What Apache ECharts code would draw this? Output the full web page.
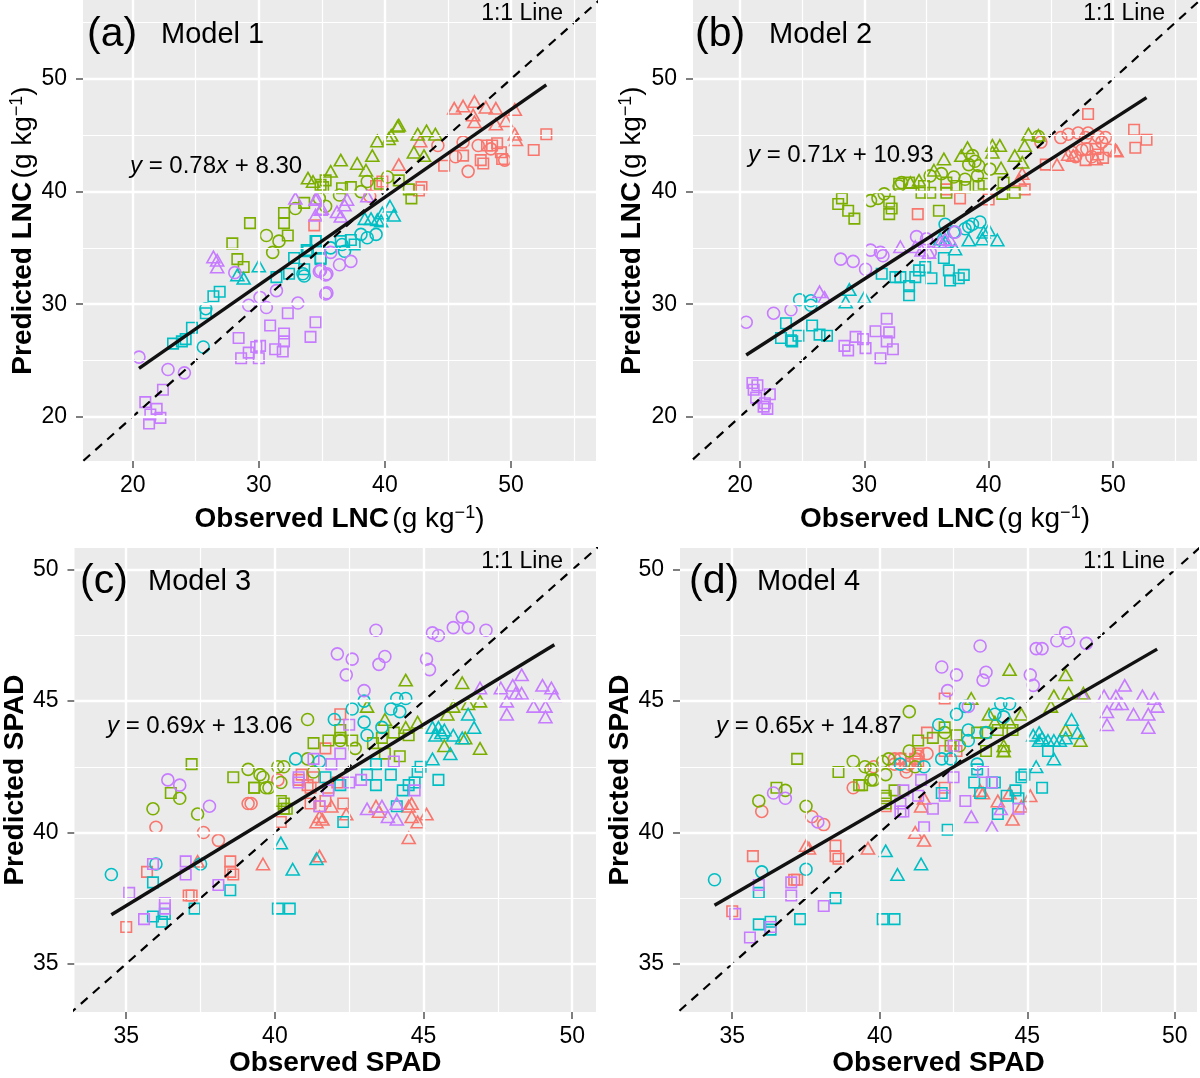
<!DOCTYPE html>
<html><head><meta charset="utf-8">
<script src="https://cdn.jsdelivr.net/npm/echarts@6/dist/echarts.min.js"></script>
<style>html,body{margin:0;padding:0;background:#fff}#c{width:1200px;height:1078px}</style>
</head><body><div id="c"></div>
<script>
// ---------- categories ----------
const groupColors = ['#F8766D', '#7CAE00', '#00BFC4', '#C77CFF']; // G1..G4
const shapeSymbols = ['circle', 'triangle', 'rect'];               // S1..S3 (k = 0,1,2)
const panelLetters = ['(a)', '(b)', '(c)', '(d)'];
const modelNames = ['Model 1', 'Model 2', 'Model 3', 'Model 4'];
const slopes = [0.78, 0.71, 0.69, 0.65];
const intercepts = [8.30, 10.93, 13.06, 14.87];
const ticksLNC = [20, 30, 40, 50];
const minorLNC = [25, 35, 45, 55];
const ticksSPAD = [35, 40, 45, 50];
const minorSPAD = [37.5, 42.5, 47.5];

// ---------- data: [observed, predicted, shape k] ----------
const m1_red = [
[34.4,37.0,2],[52.8,45.1,2],[51.8,43.7,2],[48.9,44.3,2],[48.1,44.1,2],[48.5,44.1,2],[49.2,43.5,2],[49.3,42.9,2],[47.6,42.8,2],[47.8,42.5,2],[46.2,43.2,2],[44.7,42.3,2],[42.9,40.4,2],[42.7,40.1,2],[39.3,40.5,2],[39.8,40.9,2],
[44.2,44.1,0],[46.2,44.4,0],[47.4,44.1,0],[48.4,43.8,0],[49.5,42.8,0],[45.6,43.1,0],[46.6,41.8,0],[38.8,39.6,0],
[45.5,47.4,1],[46.2,47.6,1],[47.1,48.0,1],[48.0,47.5,1],[48.8,47.4,1],[50.3,47.3,1],[47.0,46.8,1],[47.1,46.2,1],[48.8,46.0,1],[49.6,46.3,1],[50.3,45.1,1],[50.4,44.6,1],[41.1,42.4,1],[42.8,44.5,1]];
const m1_green = [
[41.0,45.8,1],[41.1,45.9,1],[40.5,45.0,1],[40.3,44.7,1],[39.4,44.5,1],[39.0,43.2,1],[37.8,42.5,1],[36.5,42.8,1],[38.5,41.9,1],[35.7,41.8,1],[33.9,41.2,1],[34.3,40.9,1],[42.6,45.1,1],[43.3,45.4,1],[44.0,45.1,1],[42.3,43.5,1],[43.1,43.2,1],
[35.3,41.0,2],[35.1,40.4,2],[36.6,40.3,2],[37.3,40.4,2],[41.1,41.0,2],[41.9,40.2,2],[42.1,39.4,2],[39.6,40.7,2],[33.6,39.0,2],[29.3,37.2,2],[27.9,35.4,2],[28.3,34.0,2],[28.8,33.3,2],[32.0,38.1,2],[32.0,37.2,2],[32.3,36.1,2],[34.9,40.6,2],
[38.6,40.9,0],[40.2,41.3,0],[38.1,40.0,0],[36.4,39.7,0],[35.3,38.7,0],[30.6,36.1,0],[31.6,35.6,0],[31.1,34.6,0],[32.9,38.5,0],[34.8,39.4,0]];
const m1_cyan = [
[23.2,26.5,2],[23.9,26.7,2],[24.2,26.9,2],[24.7,27.9,2],[25.8,29.2,2],[26.4,30.7,2],[26.9,31.1,2],[31.4,32.4,2],[32.4,32.7,2],[32.8,34.1,2],[33.8,34.8,2],[34.6,35.6,2],[34.9,34.1,2],[37.3,35.7,2],[37.6,35.3,2],[36.5,35.6,2],[34.9,34.0,2],[33.9,34.7,2],[34.5,35.6,2],[33.6,33.1,2],
[25.6,26.2,0],[25.8,29.6,0],[33.5,32.7,0],[39.3,36.2,0],[38.6,35.9,0],[38.1,36.2,0],[36.6,35.3,0],[36.8,34.7,0],[35.7,35.0,0],[33.6,32.5,0],
[30.0,33.4,1],[28.8,32.3,1],[28.3,32.6,1],[40.7,37.9,1],[40.4,38.7,1],[39.8,38.1,1],[39.4,37.5,1],[38.9,37.6,1],[38.4,37.6,1],[39.7,37.4,1]];
const m1_purple = [
[21.0,21.3,2],[21.9,20.7,2],[21.4,20.2,2],[22.2,19.9,2],[21.3,19.4,2],[22.4,22.4,2],[28.4,27.0,2],[29.8,26.2,2],[30.1,26.3,2],[29.2,25.7,2],[28.6,25.2,2],[30.0,25.2,2],[30.9,28.1,2],[32.0,27.4,2],[32.0,26.7,2],[31.3,26.0,2],[31.9,25.8,2],[32.3,29.2,2],[34.5,28.4,2],[34.1,27.1,2],
[20.5,25.3,0],[22.8,24.2,0],[24.1,23.9,0],[29.2,29.9,0],[30.1,30.6,0],[30.6,29.7,0],[31.4,31.2,0],[33.1,30.1,0],[35.4,31.0,0],[34.9,33.0,0],[35.4,32.7,0],[37.3,33.8,0],[36.4,33.5,0],[35.7,34.6,0],[34.8,32.9,0],[35.3,32.6,0],[35.3,30.9,0],[28.1,32.8,0],
[26.4,34.2,1],[26.7,33.9,1],[26.7,33.3,1],[32.9,39.4,1],[34.6,39.4,1],[34.9,38.4,1],[34.5,39.3,1],[34.5,37.9,1],[35.0,38.5,1],[36.2,38.2,1],[36.5,37.8,1],[37.0,39.3,1],[36.8,38.8,1],[38.6,39.6,1]];

const m2_red = [
[48.0,46.9,2],[51.7,45.5,2],[52.7,44.6,2],[51.8,43.9,2],[47.8,42.8,2],[44.6,42.4,2],[42.9,40.2,2],[40.0,39.3,2],[37.7,39.4,2],[36.6,40.2,2],[34.3,38.0,2],[49.2,43.0,2],[48.8,43.3,2],[48.6,43.8,2],
[45.8,44.8,0],[46.4,45.1,0],[47.2,45.2,0],[47.8,44.8,0],[48.0,45.2,0],[48.8,44.9,0],[49.4,44.8,0],[49.1,44.4,0],[47.5,43.7,0],[46.7,43.5,0],[47.0,43.1,0],[47.9,43.8,0],[48.3,43.1,0],[49.7,43.7,0],[44.2,44.4,0],
[50.3,43.6,1],[50.2,43.7,1],[46.8,43.2,1],[46.4,43.3,1],[45.5,42.4,1],[42.7,41.6,1],[42.5,41.0,1],[48.6,42.9,1]];
const m2_green = [
[43.2,45.1,1],[44.0,45.0,1],[42.9,44.1,1],[42.1,43.2,1],[42.7,42.6,1],[41.0,42.1,1],[40.3,44.1,1],[40.9,44.1,1],[40.3,43.5,1],[38.3,43.9,1],[37.8,43.2,1],[36.4,42.9,1],[35.6,41.9,1],[34.4,41.0,1],[33.7,40.8,1],
[38.7,43.2,0],[38.9,42.7,0],[39.2,42.3,0],[40.1,42.0,0],[38.4,42.4,0],[36.2,41.6,0],[37.2,41.3,0],[38.1,41.1,0],[39.1,41.4,0],[35.3,41.4,0],[33.0,40.8,0],[44.0,44.9,0],[30.5,39.2,0],[31.1,39.4,0],[31.6,39.8,0],[32.8,40.5,0],
[32.8,40.7,2],[33.6,40.8,2],[34.8,40.5,2],[34.6,39.9,2],[35.3,39.9,2],[36.6,39.9,2],[37.4,40.5,2],[38.1,40.4,2],[39.2,40.5,2],[39.6,40.7,2],[41.2,40.8,2],[42.1,39.9,2],[41.1,39.8,2],[32.0,39.1,2],[32.2,38.5,2],[32.0,38.0,2],[36.0,38.3,2],[36.6,40.8,2],[27.9,38.9,2],[28.2,39.4,2],[28.7,38.3,2],[29.2,37.6,2]];
const m2_cyan = [
[36.5,37.1,0],[38.1,36.7,0],[38.7,37.1,0],[39.3,37.3,0],[38.4,36.9,0],[37.2,36.4,0],[24.8,30.4,0],[25.7,29.9,0],[25.7,30.3,0],
[38.4,35.7,1],[39.5,35.8,1],[40.0,36.6,1],[40.7,35.7,1],[39.6,36.4,1],[37.3,34.9,1],[36.1,35.8,1],[36.5,35.5,1],[28.8,31.3,1],[28.5,30.2,1],[30.0,30.6,1],
[36.4,34.1,2],[34.9,33.3,2],[34.4,33.0,2],[34.1,32.4,2],[33.6,31.6,2],[33.6,30.8,2],[35.4,32.3,2],[36.8,33.0,2],[36.9,32.1,2],[37.6,32.3,2],[38.0,32.6,2],[32.9,32.4,2],[32.5,32.4,2],[31.4,32.7,2],[23.7,28.3,2],[23.3,27.0,2],[24.1,26.8,2],[24.2,26.7,2],[24.7,27.2,2],[25.8,28.1,2],[26.4,27.3,2],[27.0,27.2,2]];
const m2_purple = [
[21.0,23.0,2],[21.4,22.8,2],[21.1,22.4,2],[21.3,21.7,2],[22.0,21.2,2],[22.2,20.7,2],[22.4,22.0,2],[21.9,20.9,2],[28.4,26.3,2],[28.7,25.9,2],[29.3,27.1,2],[29.9,26.9,2],[30.1,26.1,2],[30.9,27.6,2],[31.8,28.7,2],[32.0,27.5,2],[31.8,26.7,2],[32.3,26.0,2],[31.3,25.2,2],
[20.5,28.4,0],[22.7,29.2,0],[24.1,29.5,0],[28.1,34.0,0],[29.1,33.8,0],[30.1,33.1,0],[30.5,34.8,0],[31.3,34.6,0],[31.5,34.3,0],[34.2,36.0,0],[35.0,35.8,0],[35.3,34.6,0],[37.3,36.4,0],
[26.4,31.1,1],[26.8,30.6,1],[36.5,35.8,1],[36.9,35.7,1],[36.1,35.5,1],[32.9,35.1,1],[34.1,35.1,1],[34.6,34.8,1],[35.2,34.6,1]];

const m3_red = [
[35.0,36.4,2],[35.7,38.5,2],[38.5,38.9,2],[38.5,38.5,2],[38.6,38.4,2],[37.1,37.6,2],[37.2,37.6,2],[40.2,40.4,2],[42.2,44.5,2],[41.7,43.2,2],[40.9,42.2,2],[40.8,42.0,2],[41.3,42.1,2],[41.1,41.8,2],[41.2,41.7,2],[41.2,41.1,2],[41.7,41.2,2],[42.3,41.1,2],[41.5,41.0,2],[41.8,41.7,2],[42.1,41.9,2],
[36.0,40.2,0],[37.6,40.0,0],[38.1,39.7,0],[39.1,41.1,0],[40.1,42.0,0],[39.2,41.1,0],
[37.4,38.9,1],[39.6,38.8,1],[41.5,39.1,1],[41.5,40.6,1],[41.4,40.4,1],[43.4,41.0,1],[43.5,40.8,1],[44.5,41.0,1],[44.6,41.1,1],[44.6,40.6,1],[44.8,40.4,1],[45.1,40.7,1],[44.5,39.8,1],[41.9,41.0,1],[41.6,40.5,1],[42.4,40.7,1]];
const m3_green = [
[36.5,41.5,2],[37.2,42.6,2],[38.6,42.1,2],[39.3,41.7,2],[40.2,41.2,2],[40.3,40.9,2],[42.2,43.9,2],[42.6,43.5,2],[41.3,43.4,2],[41.8,43.5,2],[43.3,43.4,2],[43.6,43.6,2],[44.0,43.8,2],[44.5,43.7,2],[44.2,42.9,2],[43.7,43.0,2],[42.2,43.6,2],[40.3,41.1,2],[40.4,40.9,2],[39.3,41.7,2],
[35.9,40.9,0],[36.8,41.3,0],[37.4,40.7,0],[39.1,42.4,0],[39.5,42.2,0],[39.6,42.1,0],[39.8,41.7,0],[40.1,42.5,0],[40.3,42.5,0],[40.2,41.9,0],[41.1,44.3,0],[42.2,43.5,0],[42.7,43.2,0],[41.1,42.8,0],[41.3,42.3,0],[39.7,41.7,0],
[44.4,45.8,1],[46.3,45.7,1],[46.9,45.0,1],[46.5,44.9,1],[46.0,44.8,1],[45.8,44.5,1],[43.1,44.8,1],[43.7,44.3,1],[44.8,44.2,1],[44.4,44.0,1],[46.9,43.2,1],[45.7,43.3,1],[46.4,43.6,1]];
const m3_cyan = [
[34.5,38.4,0],[36.0,38.8,0],[37.5,38.8,0],[44.1,45.1,0],[44.4,45.1,0],[43.9,44.7,0],[44.2,44.6,0],[43.6,44.0,0],[43.0,44.2,0],[43.1,43.7,0],[42.6,44.7,0],[43.0,45.0,0],[42.0,44.3,0],[40.7,42.8,0],[41.5,42.7,0],
[35.9,38.1,2],[35.9,36.8,2],[36.2,36.6,2],[36.3,36.9,2],[38.5,37.8,2],[37.3,37.1,2],[40.1,37.1,2],[40.5,37.1,2],[43.4,42.6,2],[43.9,42.2,2],[43.4,41.8,2],[43.1,42.2,2],[44.1,41.0,2],[44.3,41.6,2],[44.5,41.8,2],[44.7,41.9,2],[44.8,42.3,2],[44.9,42.5,2],[45.5,42.0,2],[42.3,40.4,2],[41.7,42.1,2],[42.2,41.8,2],
[40.2,39.6,1],[40.6,38.6,1],[41.4,39.0,1],[46.5,44.5,1],[46.7,44.0,1],[45.3,44.0,1],[45.5,44.0,1],[45.6,43.8,1],[45.4,43.7,1],[45.7,43.9,1],[46.0,43.7,1],[46.3,43.6,1],[45.9,43.0,1],[45.3,42.8,1]];
const m3_purple = [
[35.1,37.7,2],[35.9,38.8,2],[36.3,37.3,2],[36.3,37.1,2],[35.6,36.7,2],[37.0,38.9,2],[37.0,38.4,2],[38.1,38.0,2],[42.5,44.1,2],[42.2,43.0,2],[41.9,42.6,2],[41.3,42.8,2],[40.8,41.9,2],[40.8,42.1,2],[41.8,41.6,2],[42.5,41.9,2],[42.9,42.0,2],[44.0,42.7,2],[41.5,41.0,2],[44.7,41.6,2],
[36.4,42.0,0],[36.8,41.8,0],[37.8,41.0,0],[43.4,47.7,0],[42.1,46.8,0],[42.6,46.6,0],[43.7,46.7,0],[43.5,46.4,0],[42.4,46.0,0],[45.1,46.6,0],[45.2,46.2,0],[45.3,47.6,0],[45.5,47.5,0],[46.0,47.8,0],[46.3,48.2,0],[46.5,47.8,0],[47.1,47.7,0],[43.0,45.4,0],
[46.9,45.5,1],[47.6,45.5,1],[48.0,45.6,1],[48.3,46.0,1],[48.3,45.3,1],[48.1,45.3,1],[47.8,45.0,1],[47.8,44.5,1],[49.0,45.6,1],[49.3,45.5,1],[49.4,45.2,1],[48.7,44.8,1],[49.1,44.8,1],[49.1,44.4,1],[43.1,40.9,1],[43.6,41.0,1],[43.8,40.6,1],[44.1,41.1,1],[44.1,40.5,1]];

const m4_red = [
[35.0,37.0,2],[35.7,39.1,2],[37.1,38.2,2],[37.2,38.2,2],[38.5,39.5,2],[38.5,39.1,2],[38.6,39.0,2],[40.2,41.0,2],[42.2,45.1,2],[41.6,43.8,2],[40.7,42.8,2],[41.3,43.0,2],[41.2,42.8,2],[41.3,42.7,2],[42.2,41.7,2],[42.2,43.1,2],[42.6,43.1,2],
[36.0,40.8,0],[37.7,40.6,0],[38.1,40.3,0],[39.1,41.7,0],[39.8,42.5,0],[40.5,42.6,0],[40.7,42.8,0],[40.9,42.3,0],[41.2,42.8,0],[40.9,42.5,0],[41.3,42.9,0],[41.6,43.0,0],[40.5,42.8,0],[41.0,42.6,0],
[37.5,39.5,1],[37.6,39.4,1],[39.6,39.4,1],[41.5,39.7,1],[43.4,41.6,1],[43.5,41.5,1],[41.5,41.3,1],[41.4,41.0,1],[44.0,41.2,1],[44.4,41.5,1],[44.5,40.5,1],[44.8,41.0,1],[45.1,41.4,1],[41.2,40.0,1]];
const m4_green = [
[37.2,42.8,2],[38.6,42.3,2],[36.5,41.7,2],[39.3,41.8,2],[41.3,43.5,2],[40.2,41.3,2],[40.2,41.1,2],[40.5,41.6,2],[42.2,44.0,2],[42.6,43.7,2],[41.8,43.6,2],[43.3,43.8,2],[43.6,43.8,2],[44.0,43.9,2],[44.5,43.9,2],[44.2,43.1,2],[43.6,43.1,2],[42.4,43.3,2],[40.2,41.4,2],[39.4,41.8,2],
[35.9,41.2,0],[36.8,41.6,0],[37.5,41.0,0],[39.1,42.7,0],[39.5,42.5,0],[39.7,42.4,0],[39.8,42.0,0],[40.1,42.7,0],[40.3,42.8,0],[40.2,42.2,0],[41.0,43.1,0],[41.0,44.6,0],[42.2,43.8,0],[42.7,43.3,0],[41.2,42.5,0],[39.7,42.0,0],
[44.4,46.2,1],[46.3,46.0,1],[46.9,45.3,1],[46.4,45.3,1],[45.9,45.2,1],[45.8,44.8,1],[43.1,45.1,1],[43.7,44.5,1],[44.8,44.5,1],[44.4,44.2,1],[46.8,43.5,1],[46.3,43.9,1],[43.9,44.2,1],[44.2,43.3,1],[44.2,43.1,1]];
const m4_cyan = [
[34.4,38.2,0],[36.0,38.5,0],[37.5,38.6,0],[40.7,42.6,0],[41.5,42.5,0],[44.1,44.9,0],[44.4,44.9,0],[43.9,44.5,0],[44.2,44.4,0],[43.6,43.8,0],[43.0,43.9,0],[43.0,43.5,0],[42.6,44.5,0],[42.9,44.8,0],[42.0,44.1,0],[42.1,42.8,0],[42.4,42.8,0],[43.3,42.6,0],
[35.9,36.5,2],[36.3,36.6,2],[36.3,36.3,2],[35.9,37.7,2],[37.3,36.7,2],[38.5,37.5,2],[40.1,36.7,2],[40.5,36.7,2],[43.2,41.9,2],[43.3,42.4,2],[43.8,41.9,2],[43.9,41.9,2],[43.4,41.5,2],[44.3,41.4,2],[44.6,41.6,2],[44.8,42.1,2],[44.9,42.2,2],[45.5,41.7,2],[44.7,41.3,2],[44.0,40.7,2],[42.3,40.1,2],[42.1,41.5,2],[45.7,43.1,2],
[40.2,39.3,1],[40.6,38.4,1],[41.4,38.8,1],[46.5,44.3,1],[46.7,43.8,1],[45.2,43.7,1],[45.4,43.8,1],[45.5,43.6,1],[45.4,43.5,1],[45.7,43.5,1],[45.9,43.5,1],[46.1,43.5,1],[46.3,43.6,1],[45.9,42.8,1],[45.3,42.5,1]];
const m4_purple = [
[35.6,36.0,2],[36.3,36.4,2],[35.9,38.0,2],[37.0,38.1,2],[37.0,37.6,2],[38.1,37.2,2],[35.1,36.9,2],[40.7,41.1,2],[40.8,40.8,2],[40.8,41.6,2],[41.5,40.2,2],[42.5,43.3,2],[42.5,42.1,2],[41.4,42.0,2],[41.3,41.4,2],[41.8,40.9,2],[42.9,41.2,2],[43.5,42.3,2],[43.8,41.9,2],[44.7,40.9,2],[40.7,40.8,2],[42.2,41.4,2],
[36.4,41.5,0],[36.8,41.3,0],[37.9,40.4,0],[43.4,47.1,0],[42.1,46.3,0],[42.6,46.0,0],[43.6,46.1,0],[43.5,45.8,0],[42.3,45.4,0],[45.1,46.0,0],[45.2,45.6,0],[45.3,47.0,0],[45.5,47.0,0],[46.0,47.3,0],[46.3,47.6,0],[46.4,47.3,0],[47.0,47.2,0],[43.0,44.8,0],
[46.9,45.2,1],[47.6,45.2,1],[48.0,45.2,1],[48.3,45.6,1],[48.2,44.9,1],[48.0,44.9,1],[47.7,44.6,1],[47.7,44.1,1],[48.9,45.2,1],[49.3,45.1,1],[49.4,44.8,1],[48.6,44.5,1],[49.1,44.5,1],[49.1,44.0,1],[43.1,40.6,1],[43.8,40.2,1],[44.1,40.9,1]];

const panelData = [
  [m1_red, m1_green, m1_cyan, m1_purple],
  [m2_red, m2_green, m2_cyan, m2_purple],
  [m3_red, m3_green, m3_cyan, m3_purple],
  [m4_red, m4_green, m4_cyan, m4_purple]
];

// ---------- layout / style ----------
const FONT = 'Liberation Sans';
const boxes = [[83,0,513,461],[693,0,504,461],[72,548,524,468],[680,548,517,468]];
const xRanges = [[16.06,56.74],[16.22,56.76],[33.26,50.8],[33.23,50.75]];
const yRanges = [[16.07,57.02],[16.07,57.02],[33.16,50.83],[33.16,50.83]];
const xNames = ['{b|Observed LNC} {n|(g kg}{s|−1}{n|)}','{b|Observed LNC} {n|(g kg}{s|−1}{n|)}','{b|Observed SPAD}','{b|Observed SPAD}'];
const yNames = ['{b|Predicted LNC} {n|(g kg}{s|−1}{n|)}','{b|Predicted LNC} {n|(g kg}{s|−1}{n|)}','{b|Predicted SPAD}','{b|Predicted SPAD}'];
const xNameGap = [43, 43, 35, 35];
const yNameGap = [44, 46, 39, 40];
const letterPos = [[87,35],[695,35],[80,582],[689,582]];
const modelPos = [[161,35],[769,35],[148,582],[757,582]];
const oneOnePos = [[563,14],[1165,14],[563,562],[1165,562]];
const eqPos = [[130,166],[748,155],[107,726],[716,726]];
const symSizes = [12, [13,11.5], 10.5];

const nameRich = {
  b: {fontFamily: FONT, fontSize: 28, fontWeight: 'bold', color: '#000'},
  n: {fontFamily: FONT, fontSize: 28, color: '#000'},
  s: {fontFamily: FONT, fontSize: 18, color: '#000', verticalAlign: 'top', padding: [0,0,12,0]}
};

const grids = [], xAxes = [], yAxes = [], series = [], graphics = [];
for (let p = 0; p < 4; p++) {
  const [l, t, w, h] = boxes[p];
  const lnc = p < 2;
  const ticks = lnc ? ticksLNC : ticksSPAD;
  const minors = lnc ? minorLNC : minorSPAD;
  grids.push({left: l, top: t, width: w, height: h, show: true, backgroundColor: '#EBEBEB', borderWidth: 0});
  const axisCommon = {
    type: 'value', gridIndex: p,
    axisLine: {show: false},
    splitLine: {show: false},
    axisTick: {show: true, customValues: ticks, length: 7, lineStyle: {color: '#7f7f7f', width: 2}},
    axisLabel: {customValues: ticks, fontFamily: FONT, fontSize: 23, color: '#000'},
    nameLocation: 'middle',
    nameTextStyle: {rich: nameRich}
  };
  xAxes.push(Object.assign({}, axisCommon, {
    min: xRanges[p][0], max: xRanges[p][1], name: xNames[p], nameGap: xNameGap[p],
    axisLabel: Object.assign({}, axisCommon.axisLabel, {margin: 13})
  }));
  yAxes.push(Object.assign({}, axisCommon, {
    min: yRanges[p][0], max: yRanges[p][1], name: yNames[p], nameGap: yNameGap[p],
    axisLabel: Object.assign({}, axisCommon.axisLabel, {margin: 16})
  }));

  // grid lines (background)
  const gl = [];
  minors.forEach(v => { gl.push({xAxis: v, lineStyle: {width: 1.2}}); gl.push({yAxis: v, lineStyle: {width: 1.2}}); });
  ticks.forEach(v => { gl.push({xAxis: v, lineStyle: {width: 2.4}}); gl.push({yAxis: v, lineStyle: {width: 2.4}}); });
  series.push({
    type: 'scatter', xAxisIndex: p, yAxisIndex: p, data: [], z: 1, silent: true,
    markLine: {silent: true, symbol: 'none', animation: false, label: {show: false},
      lineStyle: {color: '#ffffff', type: 'solid'}, data: gl}
  });

  // points
  panelData[p].forEach((arr, g) => {
    for (let k = 0; k < 3; k++) {
      series.push({
        type: 'scatter', xAxisIndex: p, yAxisIndex: p, z: 3,
        symbol: shapeSymbols[k], symbolSize: symSizes[k],
        itemStyle: {color: 'rgba(0,0,0,0)', borderColor: groupColors[g], borderWidth: 1.6, opacity: 1},
        data: arr.filter(d => d[2] === k).map(d => [d[0], d[1]]),
        animation: false
      });
    }
  });

  // 1:1 line
  series.push({
    type: 'line', xAxisIndex: p, yAxisIndex: p, z: 4, clip: true, symbol: 'none', animation: false,
    lineStyle: {color: '#000', width: 2.2, type: [9, 7]},
    data: [[0, 0], [100, 100]]
  });
  // regression line over observed range
  const all = [].concat(...panelData[p]);
  const xs = all.map(d => d[0]);
  const x0 = Math.min(...xs), x1 = Math.max(...xs);
  series.push({
    type: 'line', xAxisIndex: p, yAxisIndex: p, z: 5, symbol: 'none', animation: false,
    lineStyle: {color: '#111', width: 3.4},
    data: [[x0, slopes[p] * x0 + intercepts[p]], [x1, slopes[p] * x1 + intercepts[p]]]
  });

  // annotations
  graphics.push({type: 'text', z: 10, x: letterPos[p][0], y: letterPos[p][1],
    style: {text: panelLetters[p], fontFamily: FONT, fontSize: 41, fill: '#000', verticalAlign: 'middle'}});
  graphics.push({type: 'text', z: 10, x: modelPos[p][0], y: modelPos[p][1],
    style: {text: modelNames[p], fontFamily: FONT, fontSize: 29, fill: '#000', verticalAlign: 'middle'}});
  graphics.push({type: 'text', z: 10, x: oneOnePos[p][0], y: oneOnePos[p][1],
    style: {text: '1:1 Line', fontFamily: FONT, fontSize: 23, fill: '#000', align: 'right', verticalAlign: 'middle'}});
  graphics.push({type: 'text', z: 10, x: eqPos[p][0], y: eqPos[p][1],
    style: {text: '{i|y} = ' + slopes[p].toFixed(2) + '{i|x} + ' + intercepts[p].toFixed(2),
      fontFamily: FONT, fontSize: 24, fill: '#000', verticalAlign: 'middle',
      rich: {i: {fontFamily: FONT, fontSize: 24, fontStyle: 'italic', fill: '#000'}}}});
}

const chart = echarts.init(document.getElementById('c'), null, {renderer: 'canvas'});
chart.setOption({
  backgroundColor: '#ffffff',
  animation: false,
  grid: grids, xAxis: xAxes, yAxis: yAxes, series: series, graphic: graphics
});
</script></body></html>
